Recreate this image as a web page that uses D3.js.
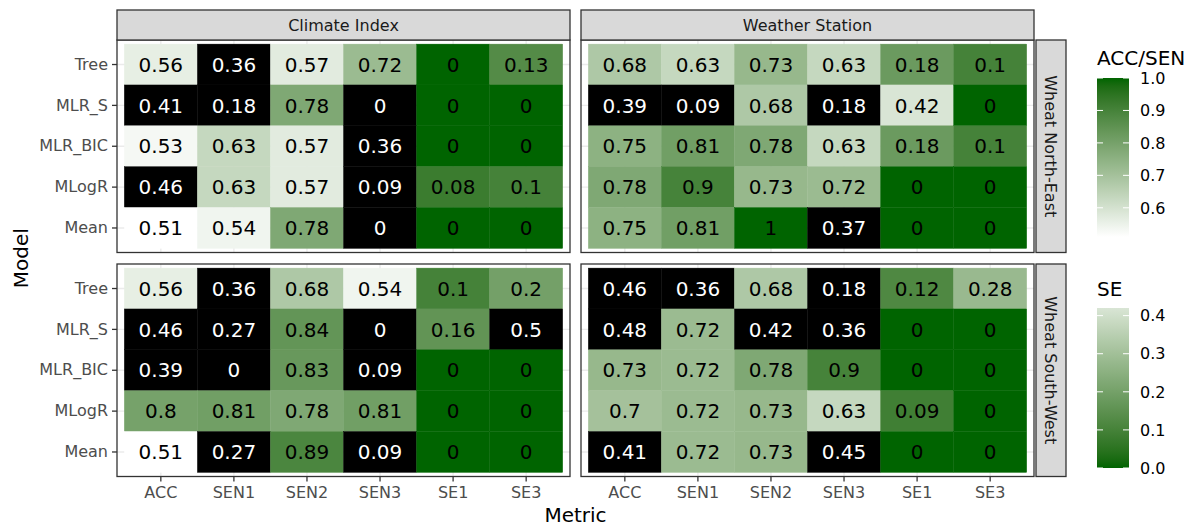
<!DOCTYPE html>
<meta charset="utf-8">
<style>
body { margin: 0; background: #fff; }
text { font-family: "DejaVu Sans", sans-serif; }
</style>
<body>
<script src="https://cdn.jsdelivr.net/npm/d3@7"></script>
<script>

var metrics = ["ACC", "SEN1", "SEN2", "SEN3", "SE1", "SE3"];
var seMetrics = ["SE1", "SE3"];
var models = ["Tree", "MLR_S", "MLR_BIC", "MLogR", "Mean"];
var sources = ["Climate Index", "Weather Station"];
var regions = ["Wheat North-East", "Wheat South-West"];

// rows follow models, columns follow metrics
var climateNorthEast = [
  [0.56, 0.36, 0.57, 0.72, 0, 0.13],
  [0.41, 0.18, 0.78, 0, 0, 0],
  [0.53, 0.63, 0.57, 0.36, 0, 0],
  [0.46, 0.63, 0.57, 0.09, 0.08, 0.1],
  [0.51, 0.54, 0.78, 0, 0, 0]
];
var stationNorthEast = [
  [0.68, 0.63, 0.73, 0.63, 0.18, 0.1],
  [0.39, 0.09, 0.68, 0.18, 0.42, 0],
  [0.75, 0.81, 0.78, 0.63, 0.18, 0.1],
  [0.78, 0.9, 0.73, 0.72, 0, 0],
  [0.75, 0.81, 1, 0.37, 0, 0]
];
var climateSouthWest = [
  [0.56, 0.36, 0.68, 0.54, 0.1, 0.2],
  [0.46, 0.27, 0.84, 0, 0.16, 0.5],
  [0.39, 0, 0.83, 0.09, 0, 0],
  [0.8, 0.81, 0.78, 0.81, 0, 0],
  [0.51, 0.27, 0.89, 0.09, 0, 0]
];
var stationSouthWest = [
  [0.46, 0.36, 0.68, 0.18, 0.12, 0.28],
  [0.48, 0.72, 0.42, 0.36, 0, 0],
  [0.73, 0.72, 0.78, 0.9, 0, 0],
  [0.7, 0.72, 0.73, 0.63, 0.09, 0],
  [0.41, 0.72, 0.73, 0.45, 0, 0]
];

var accSenLimits = [0.51, 1];
var seLimits = [0, 0.42];
var accSenTicks = [0.6, 0.7, 0.8, 0.9, 1.0];
var seTicks = [0, 0.1, 0.2, 0.3, 0.4];

var panels = [
  {src: 0, reg: 0, values: climateNorthEast},
  {src: 1, reg: 0, values: stationNorthEast},
  {src: 0, reg: 1, values: climateSouthWest},
  {src: 1, reg: 1, values: stationSouthWest}
];

var width = 1195,
    height = 526;

var panelX = [117, 581],
    panelY = [40, 264],
    panelW = 453,
    panelH = 212.5,
    stripH = 30;

var svg = d3.select("body").append("svg")
    .attr("width", width)
    .attr("height", height);

svg.append("rect").attr("width", width).attr("height", height).attr("fill", "#fff");

var x = d3.scaleBand().domain(metrics).range([0, panelW]).paddingInner(0).paddingOuter(0.1);
var y = d3.scaleBand().domain(models).range([0, panelH]).paddingInner(0).paddingOuter(0.1);

var accColor = d3.scaleLinear().domain(accSenLimits).range(["white", "darkgreen"]).interpolate(d3.interpolateLab);
// the SE gradient never quite reaches white inside its limits
var seColor = d3.scaleLinear().domain([0, 0.5]).range(["darkgreen", "white"]).interpolate(d3.interpolateLab);

function inRange(v, lim) { return v >= lim[0] - 1e-9 && v <= lim[1] + 1e-9; }

function cellFill(m, v) {
  if (seMetrics.indexOf(m) >= 0) return inRange(v, seLimits) ? seColor(v) : "#000";
  return inRange(v, accSenLimits) ? accColor(v) : "#000";
}

panels.forEach(function(p) {
  var g = svg.append("g")
      .attr("transform", "translate(" + panelX[p.src] + "," + panelY[p.reg] + ")");

  g.append("rect").attr("width", panelW).attr("height", panelH).attr("fill", "#fff");

  g.selectAll(".gx").data(metrics).enter().append("line")
      .attr("x1", function(d) { return x(d) + x.bandwidth() / 2; })
      .attr("x2", function(d) { return x(d) + x.bandwidth() / 2; })
      .attr("y1", 0).attr("y2", panelH)
      .attr("stroke", "#ebebeb").attr("stroke-width", 1.3);
  g.selectAll(".gy").data(models).enter().append("line")
      .attr("y1", function(d) { return y(d) + y.bandwidth() / 2; })
      .attr("y2", function(d) { return y(d) + y.bandwidth() / 2; })
      .attr("x1", 0).attr("x2", panelW)
      .attr("stroke", "#ebebeb").attr("stroke-width", 1.3);

  var cells = [];
  p.values.forEach(function(row, i) {
    row.forEach(function(v, j) {
      cells.push({model: models[i], metric: metrics[j], value: v});
    });
  });

  g.selectAll(".tile").data(cells).enter().append("rect")
      .attr("x", function(d) { return x(d.metric); })
      .attr("y", function(d) { return y(d.model); })
      .attr("width", x.bandwidth())
      .attr("height", y.bandwidth())
      .attr("fill", function(d) { return cellFill(d.metric, d.value); })
      .attr("stroke", function(d) { return cellFill(d.metric, d.value); })
      .attr("stroke-width", 0.4);

  g.selectAll(".lab").data(cells).enter().append("text")
      .attr("x", function(d) { return x(d.metric) + x.bandwidth() / 2; })
      .attr("y", function(d) { return y(d.model) + y.bandwidth() / 2; })
      .attr("dy", "0.36em")
      .attr("text-anchor", "middle")
      .attr("font-size", 20)
      .attr("fill", function(d) { return cellFill(d.metric, d.value) === "#000" ? "#fff" : "#000"; })
      .text(function(d) { return String(d.value); });

  g.append("rect").attr("width", panelW).attr("height", panelH)
      .attr("fill", "none").attr("stroke", "#333").attr("stroke-width", 1.3);
});

// top strips
sources.forEach(function(s, i) {
  svg.append("rect")
      .attr("x", panelX[i]).attr("y", panelY[0] - stripH)
      .attr("width", panelW).attr("height", stripH)
      .attr("fill", "#d9d9d9").attr("stroke", "#333").attr("stroke-width", 1.3);
  svg.append("text")
      .attr("x", panelX[i] + panelW / 2).attr("y", panelY[0] - stripH / 2)
      .attr("dy", "0.36em").attr("text-anchor", "middle")
      .attr("font-size", 16).attr("fill", "#1a1a1a")
      .text(s);
});

// right strips
regions.forEach(function(r, i) {
  var sx = panelX[1] + panelW + 2;
  svg.append("rect")
      .attr("x", sx).attr("y", panelY[i])
      .attr("width", stripH).attr("height", panelH)
      .attr("fill", "#d9d9d9").attr("stroke", "#333").attr("stroke-width", 1.3);
  svg.append("text")
      .attr("transform", "translate(" + (sx + stripH / 2) + "," + (panelY[i] + panelH / 2) + ") rotate(90)")
      .attr("dy", "0.36em").attr("text-anchor", "middle")
      .attr("font-size", 16).attr("fill", "#1a1a1a")
      .text(r);
});

// y axes
panelY.forEach(function(py) {
  var ax = svg.append("g").attr("transform", "translate(" + panelX[0] + "," + py + ")")
      .call(d3.axisLeft(y).tickSize(5).tickPadding(4));
  ax.select(".domain").remove();
  ax.selectAll(".tick line").attr("stroke", "#333").attr("stroke-width", 1.3);
  ax.selectAll(".tick text").attr("font-size", 16).attr("fill", "#4d4d4d")
      .attr("font-family", "DejaVu Sans");
});

// x axes
panelX.forEach(function(px) {
  var ax = svg.append("g").attr("transform", "translate(" + px + "," + (panelY[1] + panelH) + ")")
      .call(d3.axisBottom(x).tickSize(5).tickPadding(5));
  ax.select(".domain").remove();
  ax.selectAll(".tick line").attr("stroke", "#333").attr("stroke-width", 1.3);
  ax.selectAll(".tick text").attr("font-size", 16).attr("fill", "#4d4d4d")
      .attr("font-family", "DejaVu Sans");
});

svg.append("text")
    .attr("x", panelX[0] + (panelX[1] + panelW - panelX[0]) / 2).attr("y", 522)
    .attr("text-anchor", "middle").attr("font-size", 20).attr("fill", "#000")
    .text("Metric");

svg.append("text")
    .attr("transform", "translate(28," + (panelY[0] + (panelY[1] + panelH - panelY[0]) / 2) + ") rotate(-90)")
    .attr("text-anchor", "middle").attr("font-size", 20).attr("fill", "#000")
    .text("Model");

// colour bars
var defs = svg.append("defs");
function colorbar(id, title, scale, limits, ticks, top, bottom, titleY) {
  var grad = defs.append("linearGradient").attr("id", id)
      .attr("x1", 0).attr("y1", 1).attr("x2", 0).attr("y2", 0);
  d3.range(0, 1.0001, 0.05).forEach(function(t) {
    var v = limits[0] + t * (limits[1] - limits[0]);
    grad.append("stop").attr("offset", t).attr("stop-color", scale(v));
  });
  var bx = 1097, bw = 32;
  var ly = d3.scaleLinear().domain(limits).range([bottom, top]);
  svg.append("text").attr("x", bx).attr("y", titleY)
      .attr("font-size", 20).attr("fill", "#000").text(title);
  svg.append("rect").attr("x", bx).attr("y", top).attr("width", bw).attr("height", bottom - top)
      .attr("fill", "url(#" + id + ")");
  ticks.forEach(function(t) {
    var ty = ly(t);
    svg.append("line").attr("x1", bx).attr("x2", bx + 6).attr("y1", ty).attr("y2", ty)
        .attr("stroke", "#fff").attr("stroke-width", 1);
    svg.append("line").attr("x1", bx + bw - 6).attr("x2", bx + bw).attr("y1", ty).attr("y2", ty)
        .attr("stroke", "#fff").attr("stroke-width", 1);
    svg.append("text").attr("x", bx + bw + 11).attr("y", ty).attr("dy", "0.36em")
        .attr("font-size", 16).attr("fill", "#000").text(d3.format(".1f")(t));
  });
}
colorbar("gAcc", "ACC/SEN", accColor, accSenLimits, accSenTicks, 78, 237, 65);
colorbar("gSe", "SE", seColor, seLimits, seTicks, 308, 468, 296);

</script>
</body>
